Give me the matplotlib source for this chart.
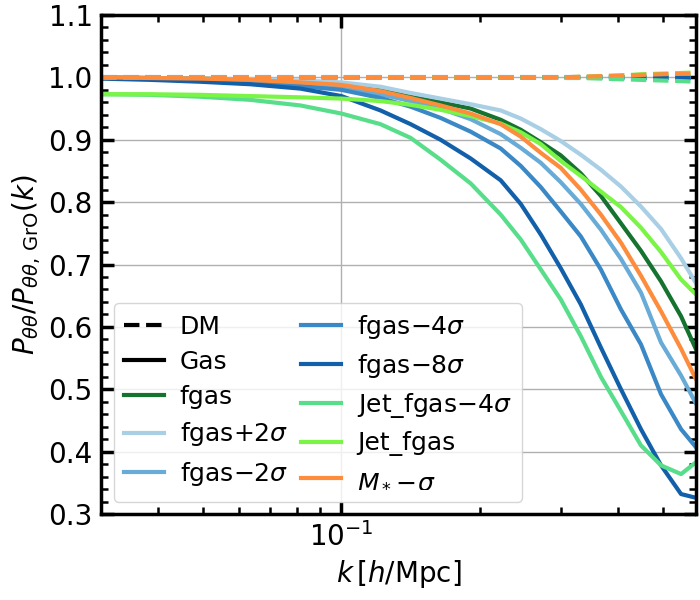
import numpy as np
import matplotlib
matplotlib.use("Agg")
import matplotlib.pyplot as plt
from matplotlib.ticker import MultipleLocator, LogLocator, NullFormatter

k = [0.0300, 0.0384, 0.0493, 0.0633, 0.0814, 0.1000, 0.1216, 0.1414, 0.1643,
     0.1910, 0.2220, 0.2455, 0.2714, 0.2999, 0.3316, 0.3666, 0.4054, 0.4481,
     0.4955, 0.5478, 0.5904]

labels = ["fgas", r"fgas$+2\sigma$", r"fgas$-2\sigma$", r"fgas$-4\sigma$",
          r"fgas$-8\sigma$", r"Jet_fgas$-4\sigma$", "Jet_fgas", r"$M_*\!-\!\sigma$"]
colors = ["#15722f", "#a9cfe5", "#67abd6", "#3a88c5", "#1260aa",
          "#58de8b", "#7af545", "#fd8c3d"]

gas_fgas = [1.000, 0.999, 0.998, 0.996, 0.993, 0.989, 0.980, 0.969, 0.960, 0.950, 0.932,
            0.916, 0.896, 0.875, 0.846, 0.810, 0.766, 0.722, 0.673, 0.617, 0.564]
gas_fgas_p2 = [1.000, 0.999, 0.998, 0.997, 0.995, 0.992, 0.985, 0.975, 0.966, 0.957, 0.947,
               0.934, 0.917, 0.898, 0.876, 0.852, 0.825, 0.793, 0.757, 0.710, 0.670]
gas_fgas_m2 = [1.000, 0.998, 0.996, 0.993, 0.988, 0.982, 0.973, 0.962, 0.950, 0.933, 0.909,
               0.887, 0.863, 0.832, 0.797, 0.756, 0.709, 0.655, 0.575, 0.522, 0.477]
gas_fgas_m4 = [0.999, 0.998, 0.995, 0.991, 0.986, 0.980, 0.967, 0.953, 0.935, 0.913, 0.886,
               0.858, 0.824, 0.785, 0.745, 0.692, 0.628, 0.572, 0.492, 0.436, 0.407]
gas_fgas_m8 = [0.998, 0.996, 0.993, 0.989, 0.982, 0.970, 0.947, 0.925, 0.900, 0.870, 0.835,
               0.797, 0.748, 0.694, 0.636, 0.567, 0.500, 0.436, 0.378, 0.332, 0.326]
gas_jet_m4 = [0.973, 0.972, 0.969, 0.964, 0.955, 0.942, 0.925, 0.903, 0.868, 0.830, 0.780,
              0.740, 0.692, 0.644, 0.585, 0.520, 0.465, 0.410, 0.378, 0.364, 0.383]
gas_jet = [0.973, 0.973, 0.972, 0.970, 0.968, 0.966, 0.962, 0.956, 0.948, 0.938, 0.926,
           0.912, 0.893, 0.866, 0.842, 0.817, 0.792, 0.759, 0.720, 0.676, 0.652]
gas_mstar = [1.000, 0.999, 0.998, 0.996, 0.992, 0.988, 0.978, 0.967, 0.955, 0.942, 0.925,
             0.905, 0.879, 0.855, 0.820, 0.780, 0.735, 0.682, 0.625, 0.565, 0.516]

dm_fgas = [1.000] * 17 + [1.000, 1.001, 1.001, 1.001]
dm_fgas_p2 = [1.000] * 15 + [1.001, 1.001, 1.002, 1.002, 1.003, 1.003]
dm_fgas_m2 = [1.000] * 21
dm_fgas_m4 = [1.000] * 17 + [0.999, 0.999, 0.999, 0.999]
dm_fgas_m8 = [1.000] * 17 + [0.999, 0.999, 0.999, 0.999]
dm_jet_m4 = [1.000] * 13 + [0.999, 0.999, 0.998, 0.997, 0.996, 0.995, 0.994, 0.993]
dm_jet = [1.000] * 14 + [1.001, 1.002, 1.003, 1.005, 1.006, 1.007, 1.008]
dm_mstar = [1.000] * 14 + [1.001, 1.002, 1.003, 1.004, 1.005, 1.006, 1.006]

gas_all = [gas_fgas, gas_fgas_p2, gas_fgas_m2, gas_fgas_m4, gas_fgas_m8,
           gas_jet_m4, gas_jet, gas_mstar]
dm_all = [dm_fgas, dm_fgas_p2, dm_fgas_m2, dm_fgas_m4, dm_fgas_m8,
          dm_jet_m4, dm_jet, dm_mstar]

plt.rcParams['font.family'] = ['DejaVu Sans']
plt.rcParams['mathtext.fontset'] = 'dejavusans'

fig = plt.figure(figsize=(7, 6), dpi=100)
ax = fig.add_axes([0.1443, 0.1433, 0.85, 0.8317])

for g, d, c in zip(gas_all, dm_all, colors):
    ax.plot(k, d, ls='--', color=c, lw=3)
    ax.plot(k, g, ls='-', color=c, lw=3)

handles = []
handles += ax.plot([], [], ls='--', color='black', lw=3, label='DM')
handles += ax.plot([], [], ls='-', color='black', lw=3, label='Gas')
for lab, c in zip(labels, colors):
    handles += ax.plot([], [], ls='-', color=c, lw=3, label=lab)

ax.set_xscale('log')
ax.set_xlim(k[0], k[-1])
ax.set_ylim(0.3, 1.1)
ax.yaxis.set_major_locator(MultipleLocator(0.1))
ax.yaxis.set_minor_locator(MultipleLocator(0.02))
ax.xaxis.set_minor_locator(LogLocator(base=10, subs=np.arange(2, 10)))
ax.xaxis.set_minor_formatter(NullFormatter())

ax.grid(True, which='major', color='#b0b0b0', lw=1)
ax.tick_params(which='both', direction='in', top=True, right=True, labelsize=20)
ax.tick_params(which='major', length=9, width=2.5, pad=6)
ax.tick_params(which='minor', length=5, width=1.8)
for s in ax.spines.values():
    s.set_linewidth(2.5)

ax.set_xlabel(r'$k\,[h/\mathrm{Mpc}]$', fontsize=20, labelpad=4)
ax.set_ylabel(r'$P_{\theta\theta}/P_{\theta\theta,\,\mathrm{GrO}}(k)$', fontsize=20, labelpad=4)

ax.legend(handles=handles, ncol=2, loc='lower left', fontsize=18,
          handlelength=1.6, handletextpad=0.65, columnspacing=0.5, labelspacing=0.45)

fig.savefig('out.png', dpi=100)
